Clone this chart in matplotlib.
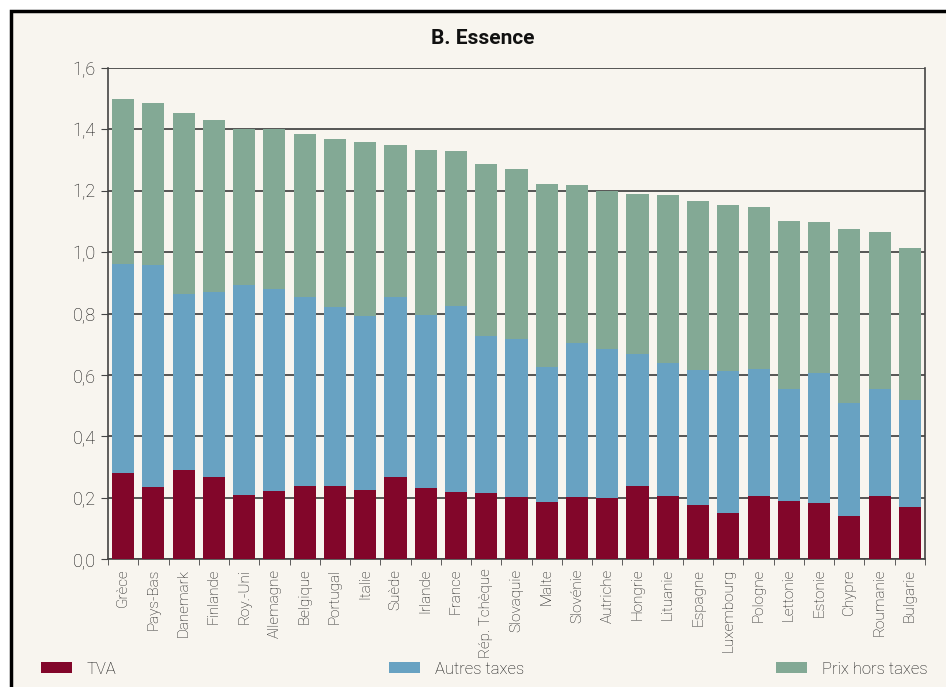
import numpy as np
import matplotlib.pyplot as plt
from matplotlib.patches import Rectangle, Patch

plt.rcParams['font.family'] = ['Roboto', 'DejaVu Sans']

pays = ['Grèce', 'Pays-Bas', 'Danemark', 'Finlande', 'Roy.-Uni', 'Allemagne',
        'Belgique', 'Portugal', 'Italie', 'Suède', 'Irlande', 'France',
        'Rép. Tchèque', 'Slovaquie', 'Malte', 'Slovénie', 'Autriche', 'Hongrie',
        'Lituanie', 'Espagne', 'Luxembourg', 'Pologne', 'Lettonie', 'Estonie',
        'Chypre', 'Roumanie', 'Bulgarie']

tva = [0.280, 0.235, 0.291, 0.268, 0.210, 0.223, 0.239, 0.239, 0.226, 0.268,
       0.232, 0.219, 0.216, 0.202, 0.187, 0.202, 0.199, 0.238, 0.205, 0.176,
       0.150, 0.205, 0.189, 0.182, 0.140, 0.205, 0.169]
autres_taxes = [0.682, 0.723, 0.574, 0.603, 0.683, 0.657, 0.615, 0.582, 0.566,
                0.586, 0.563, 0.606, 0.512, 0.515, 0.439, 0.502, 0.485, 0.431,
                0.434, 0.440, 0.463, 0.414, 0.365, 0.424, 0.368, 0.349, 0.349]
prix_ht = [0.537, 0.528, 0.588, 0.559, 0.507, 0.522, 0.531, 0.548, 0.567,
           0.495, 0.538, 0.504, 0.559, 0.554, 0.596, 0.515, 0.515, 0.520,
           0.547, 0.550, 0.540, 0.528, 0.547, 0.492, 0.567, 0.511, 0.495]

c_tva = '#82062a'
c_autres = '#68a2c2'
c_prix = '#83a995'
bg = '#f8f5ef'

fig = plt.figure(figsize=(9.46, 6.87), dpi=100, facecolor='white')
# cream panel with a black frame on top/left
frame = Rectangle((11 / 946, -0.1), 1.1, 1 - 11 / 687 + 0.1,
                  transform=fig.transFigure, facecolor=bg,
                  edgecolor='black', linewidth=2.5, zorder=-10)
fig.add_artist(frame)

ax = fig.add_axes([108 / 946, 1 - 559 / 687, 817 / 946, 491 / 687])
ax.set_facecolor(bg)

x = np.arange(len(pays))
tva = np.array(tva)
autres_taxes = np.array(autres_taxes)
prix_ht = np.array(prix_ht)
w = 0.73
ax.bar(x, tva, width=w, color=c_tva, zorder=3)
ax.bar(x, autres_taxes, width=w, bottom=tva, color=c_autres, zorder=3)
ax.bar(x, prix_ht, width=w, bottom=tva + autres_taxes, color=c_prix, zorder=3)

ax.set_xlim(-0.5, len(pays) - 0.5)
ax.set_ylim(0, 1.6)
yt = np.arange(0, 1.61, 0.2)
ax.set_yticks(yt)
ax.set_yticklabels([f'{v:.1f}'.replace('.', ',') for v in yt], fontsize=13,
                   color='#111111', fontweight='light')
ax.yaxis.grid(True, color='#3a3a3a', linewidth=1.2, zorder=1)
ax.set_axisbelow(True)

ax.set_xticks(x)
ax.set_xticklabels(pays, rotation=90, fontsize=11, color='#111111',
                   fontweight='light')
ax.set_xticks(np.arange(-0.5, len(pays)), minor=True)
ax.tick_params(axis='x', which='major', length=0, pad=7)
ax.tick_params(axis='x', which='minor', length=4, color='#444444')
ax.tick_params(axis='y', length=5, color='#444444', pad=4)

for s in ['left', 'right', 'top', 'bottom']:
    ax.spines[s].set_color('#444444')
    ax.spines[s].set_linewidth(1.2)
ax.spines['top'].set_visible(False)

fig.text(483 / 946, 1 - 38 / 687, 'B. Essence', ha='center', va='center',
         fontsize=15, fontweight='bold', color='#111111')

# legend entries placed separately
items = [('TVA', c_tva, 41), ('Autres taxes', c_autres, 389),
         ('Prix hors taxes', c_prix, 776)]
for label, col, px in items:
    leg = fig.legend(handles=[Patch(facecolor=col, label=label)],
                     loc='center left',
                     bbox_to_anchor=(px / 946, 1 - 669 / 687), frameon=False,
                     fontsize=12, handlelength=1.86, handleheight=0.65,
                     handletextpad=0.9, borderaxespad=0, borderpad=0)
    for t in leg.get_texts():
        t.set_color('#111111')
        t.set_fontweight('light')

fig.savefig('out.png', dpi=100, facecolor='white')
